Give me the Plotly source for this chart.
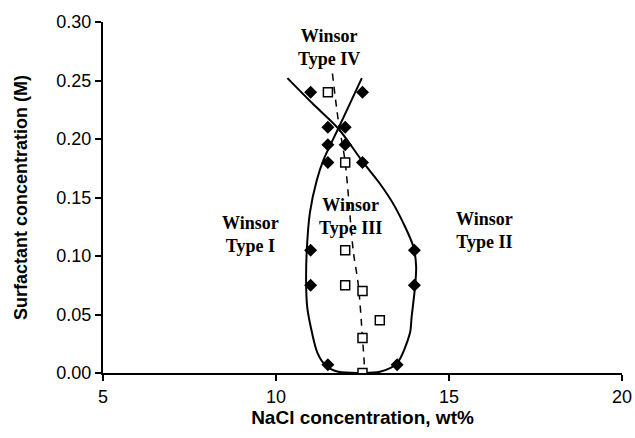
import plotly.graph_objects as go

# Boundary data points (filled diamonds)
diamond_x = [11.0, 12.5, 11.5, 12.0, 11.5, 12.0, 11.5, 12.5, 11.0, 14.0, 11.0, 14.0, 11.5, 13.5]
diamond_y = [0.24, 0.24, 0.21, 0.21, 0.195, 0.195, 0.18, 0.18, 0.105, 0.105, 0.075, 0.075, 0.007, 0.007]

# Optimal salinity points (open squares)
square_x = [11.5, 12.0, 12.0, 12.0, 12.5, 13.0, 12.5, 12.5]
square_y = [0.24, 0.18, 0.105, 0.075, 0.07, 0.045, 0.03, 0.0]

# Solid boundary curve (traced)
curve_x = [10.33, 11.05, 11.8, 12.52, 13.0, 13.44, 13.97, 14.05, 14.02, 13.92, 13.87, 13.49, 13.0, 12.5,
           11.8, 11.45, 11.2, 11.0, 10.9, 10.87, 10.89, 10.98, 11.18, 11.37, 11.8, 12.14, 12.48]
curve_y = [0.252, 0.2305, 0.209, 0.18, 0.162, 0.142, 0.108, 0.091, 0.074, 0.048, 0.034, 0.008, 0.001, 0.0,
           0.001, 0.006, 0.017, 0.04, 0.057, 0.079, 0.105, 0.137, 0.165, 0.182, 0.209, 0.2305, 0.252]

# Dashed optimal line (traced)
dash_x = [11.63, 11.8, 12.0, 12.23, 12.38, 12.5, 12.57]
dash_y = [0.256, 0.216, 0.18, 0.105, 0.075, 0.03, 0.0]

# Region labels
label_text = ["Winsor<br>Type IV", "Winsor<br>Type I", "Winsor<br>Type III", "Winsor<br>Type II"]
label_x = [11.53, 9.25, 12.14, 16.03]
label_y = [0.2778, 0.1184, 0.1338, 0.1218]

x_ticks = [5, 10, 15, 20]
y_ticks = [0.0, 0.05, 0.10, 0.15, 0.20, 0.25, 0.30]

fig = go.Figure()
fig.add_trace(go.Scatter(x=curve_x, y=curve_y, mode="lines",
                         line=dict(color="black", width=2, shape="spline", smoothing=0.8),
                         showlegend=False, hoverinfo="skip"))
fig.add_trace(go.Scatter(x=dash_x, y=dash_y, mode="lines",
                         line=dict(color="black", width=1.5, dash="7px,6px", shape="spline", smoothing=0.8),
                         showlegend=False, hoverinfo="skip"))
fig.add_trace(go.Scatter(x=diamond_x, y=diamond_y, mode="markers",
                         marker=dict(symbol="diamond", size=10, color="black"),
                         showlegend=False))
fig.add_trace(go.Scatter(x=square_x, y=square_y, mode="markers",
                         marker=dict(symbol="square", size=9, color="white",
                                     line=dict(color="black", width=1.5)),
                         showlegend=False))

for t, x, y in zip(label_text, label_x, label_y):
    fig.add_annotation(x=x, y=y, text="<b>" + t.replace("<br>", "</b><br><b>") + "</b>",
                       showarrow=False, xref="x", yref="y",
                       font=dict(family="Liberation Serif", size=18, color="black"),
                       align="center")

fig.update_layout(
    width=635, height=438,
    margin=dict(l=103, r=13, t=22, b=65, autoexpand=False),
    paper_bgcolor="white", plot_bgcolor="white",
    font=dict(family="Liberation Sans", color="black"),
)
fig.update_xaxes(range=[5, 20], tickvals=x_ticks, ticktext=[str(v) for v in x_ticks],
                 showgrid=False, zeroline=False, showline=True, linecolor="black", linewidth=2,
                 ticks="outside", ticklen=6, tickwidth=2, tickcolor="black", automargin=True,
                 tickfont=dict(size=18, family="Liberation Sans", color="black"),
                 title=dict(text="<b>NaCl concentration, wt%</b>", standoff=0,
                            font=dict(size=19, family="Liberation Sans", color="black")))
fig.update_yaxes(range=[0, 0.30], tickvals=y_ticks, ticktext=["%.2f" % v for v in y_ticks],
                 showgrid=False, zeroline=False, showline=True, linecolor="black", linewidth=2,
                 ticks="outside", ticklen=6, tickwidth=2, tickcolor="black", automargin=True,
                 tickfont=dict(size=18, family="Liberation Sans", color="black"),
                 title=dict(text="<b>Surfactant concentration (M)</b>", standoff=24,
                            font=dict(size=18, family="Liberation Sans", color="black")))

fig.write_html("out.html", config={"displayModeBar": False},
               post_script="document.body.style.margin='0px';")
